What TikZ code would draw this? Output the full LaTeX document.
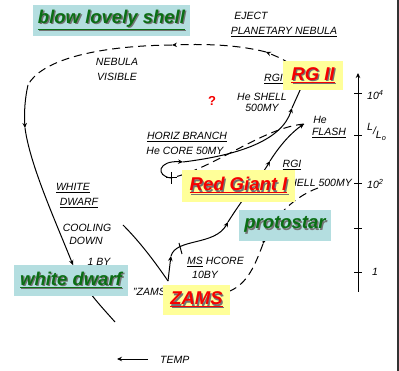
\documentclass[tikz,border=0pt]{standalone}
\usepackage{fontspec}
\setsansfont{Liberation Sans}
\usetikzlibrary{arrows.meta}
\definecolor{boxteal}{RGB}{180,222,224}
\definecolor{boxyellow}{RGB}{255,255,153}
\definecolor{wordgreen}{RGB}{10,110,20}
\definecolor{wordred}{RGB}{245,0,0}
\newcommand{\shadowed}[1]{\makebox[0pt][l]{\color{black!55}\hspace{1.3pt}\raisebox{-1.3pt}{#1}}#1}

\tikzset{
  hand/.style={font=\sffamily\itshape\fontsize{10.5}{12}\selectfont, inner sep=0pt},
  track/.style={line width=1pt},
  tip/.style={-{Stealth[length=5pt,width=4.5pt]}},
  pn/.style={track, dash pattern=on 8pt off 5pt},
  tealbox/.style={fill=boxteal, inner sep=0pt, text=wordgreen,
    font=\sffamily\bfseries\itshape\fontsize{18.5}{20}\selectfont},
  yellowbox/.style={fill=boxyellow, inner sep=0pt, text=wordred,
    font=\sffamily\bfseries\itshape\fontsize{18.5}{20}\selectfont}
}

\begin{document}
\begin{tikzpicture}[x=1pt,y=-1pt]
    \useasboundingbox (0,0) rectangle (399,371);
    \fill[white] (0,0) rectangle (399,371);
    \fill[black!80] (396.8,0) rectangle (399,371);

    \coordinate (pnstart) at (300,72);
    \coordinate (pnarrow) at (266,52);
    \coordinate (pnmid) at (172,45);
    \coordinate (wdtop) at (28,85);
    \coordinate (wdarrow) at (25,128);
    \coordinate (wdmid) at (73,265);
    \coordinate (wdend) at (115,322);
    \coordinate (msline) at (123,225);
    \coordinate (zams) at (168,281);
    \coordinate (msarrow) at (171,256);
    \coordinate (rgarrow) at (228,222);
    \coordinate (rgitop) at (270,161);
    \coordinate (heflash) at (304,124);
    \coordinate (hbstart) at (171,178);
    \coordinate (hbarrow) at (183,162);
    \coordinate (agbarrow) at (292,108);
    \coordinate (agbend) at (301,88);
    \coordinate (protostart) at (318,188);
    \coordinate (protoarrow) at (263,244);
    \coordinate (protoend) at (230,291);

    \draw[pn,tip] (pnstart) .. controls (285,60) .. (pnarrow);
    \draw[pn,tip] (pnarrow) .. controls (235,44) and (200,44) .. (pnmid);
    \draw[pn] (pnmid) .. controls (90,46) and (40,62) .. (wdtop);
    \draw[track,tip] (wdtop) .. controls (25,98) and (24,112) .. (wdarrow);
    \draw[track,tip] (wdarrow) .. controls (30,165) and (55,220) .. (wdmid);
    \draw[track] (wdmid) .. controls (85,290) and (100,305) .. (wdend);

    \draw[track] (msline) .. controls (140,242) and (155,262) .. (zams);
    \draw[track,tip] (zams) .. controls (169,270) .. (msarrow);
    \draw[track,tip] (msarrow) .. controls (176,238) and (215,246) .. (rgarrow);
    \draw[track,tip] (rgarrow) .. controls (245,195) and (262,175) .. (rgitop);
    \draw[track,tip] (rgitop) .. controls (280,145) and (292,132) .. (heflash);
    \draw[track] (179,243) -- (182,254);

    \draw[pn] (heflash) .. controls (262,128) and (215,168) .. (hbstart);
    \draw[track] (166,178) -- (177,178) (171,172) -- (171,184);
    \draw[track,tip] (hbstart) .. controls (155,176) and (158,160) .. (hbarrow);
    \draw[track,tip] (hbarrow) .. controls (240,155) and (282,140) .. (agbarrow);
    \draw[track] (agbarrow) -- (agbend);

    \draw[pn,tip] (protostart) .. controls (290,198) and (268,225) .. (protoarrow);
    \draw[pn] (protoarrow) .. controls (255,265) and (248,283) .. (protoend);

    \coordinate (lbot) at (358,292);
    \coordinate (ltop) at (358,73);
    \draw[line width=0.9pt,tip] (lbot) -- (ltop);
    \foreach \y in {93,135,183,228,272}
        \draw[line width=0.9pt] (354,\y) -- (362,\y);
    \node[hand,anchor=west] (lum4) at (367,95) {10\textsuperscript{4}};
    \node[hand,anchor=west] (lumaxis) at (367,132) {\raisebox{4pt}{L}/\raisebox{-4pt}{L\textsubscript{o}}};
    \node[hand,anchor=west] (lum2) at (367,184) {10\textsuperscript{2}};
    \node[hand,anchor=west] (lum0) at (372,272) {1};

    \coordinate (tempfrom) at (148,359);
    \coordinate (tempto) at (117,359);
    \draw[line width=1pt,tip] (tempfrom) -- (tempto);
    \node[hand,anchor=west] (temp) at (160,360) {TEMP};

    \node[hand] (eject) at (251,16) {EJECT};
    \node[hand] (planneb) at (284,32) {\underline{PLANETARY NEBULA}};
    \node[hand] (nebula) at (117,62) {NEBULA};
    \node[hand] (visible) at (117,77) {VISIBLE};
    \node[hand] (rgiilab) at (275,79) {\underline{RGII}};
    \node[hand] (heshell2) at (262,97) {He SHELL};
    \node[hand] (shell2time) at (262,108) {500MY};
    \node[font=\sffamily\bfseries\fontsize{13}{14}\selectfont, text=wordred] (query) at (212,101) {?};
    \node[hand] (helabel) at (320,120) {He};
    \node[hand] (flash) at (329,133) {\underline{FLASH}};
    \node[hand] (horiz) at (187,137) {\underline{HORIZ BRANCH}};
    \node[hand] (hecore) at (185,151) {He CORE 50MY};
    \node[hand] (rgilab) at (292,165) {\underline{RGI}};
    \node[hand,anchor=east] (heshell1) at (352,183) {He SHELL 500MY};
    \node[hand] (white) at (73,188) {\underline{WHITE}};
    \node[hand] (dwarf) at (79,203) {\underline{DWARF}};
    \node[hand] (cooling) at (87,228) {COOLING};
    \node[hand] (down) at (86,241) {DOWN};
    \node[hand] (oneby) at (99,262) {1 BY};
    \node[hand,anchor=west] (zamslab) at (133,292) {"ZAMS"};
    \node[hand,anchor=west] (mshcore) at (187,262) {\underline{MS} HCORE};
    \node[hand,anchor=west] (msten) at (192,275) {10BY};

    \node[tealbox, minimum width=157pt, minimum height=31pt] (blow) at (111.5,20.5) {\shadowed{\underline{blow lovely shell}}};
    \node[tealbox, minimum width=114pt, minimum height=31pt] (wdbox) at (71,280.5) {\shadowed{\underline{white dwarf}}};
    \node[tealbox, minimum width=92pt, minimum height=31pt] (proto) at (285,225.5) {\shadowed{protostar}};
    \node[yellowbox, minimum width=67pt, minimum height=30pt] (zamsbox) at (196.5,300) {\shadowed{\underline{ZAMS}}};
    \node[yellowbox, minimum width=113pt, minimum height=32pt] (rgibox) at (238.5,186) {\shadowed{\underline{Red Giant I}}};
    \node[yellowbox, minimum width=60pt, minimum height=29pt] (rgiibox) at (313,75.5) {\shadowed{\underline{RG II}}};
\end{tikzpicture}
\end{document}
